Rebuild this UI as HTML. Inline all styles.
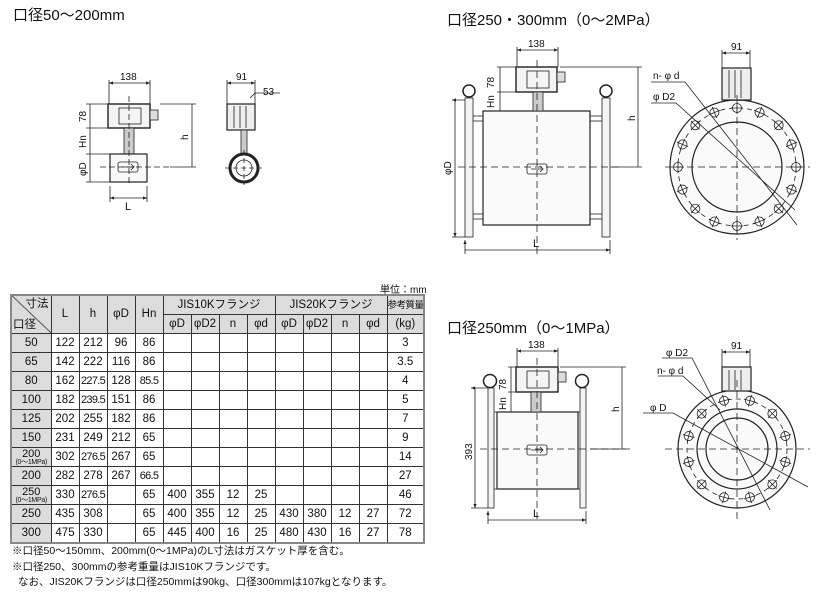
<!DOCTYPE html>
<html><head><meta charset="utf-8">
<style>
body{margin:0;width:821px;height:592px;background:#fff;position:relative;overflow:hidden;font-family:"Liberation Sans","Noto Sans CJK JP",sans-serif;color:#111}
.t{position:absolute;white-space:nowrap}
table{position:absolute;left:10px;top:294px;border-collapse:collapse;table-layout:fixed;width:413px;font-size:11.5px;border:2px solid #888}
tr{height:19px}
td{border:1px solid #333;text-align:center;padding:0;height:18px;line-height:17px;white-space:nowrap;overflow:hidden}
.g{background:#dcdcdc}
.n{font-size:11px;letter-spacing:-0.7px}
.s{font-size:7px;line-height:7px;display:block;letter-spacing:-0.3px}
.two{line-height:10px;font-size:11px}
</style></head><body>
<div class="t" style="left:13px;top:4px;font-size:15px">口径50～200mm</div>
<div class="t" style="left:447px;top:9px;font-size:15px">口径250・300mm（0～2MPa）</div>
<div class="t" style="left:447px;top:317px;font-size:15px">口径250mm（0～1MPa）</div>
<div class="t" style="left:380px;top:281px;font-size:10px">単位：mm</div>

<table>
<colgroup><col style="width:40px"><col style="width:28px"><col style="width:28px"><col style="width:28px"><col style="width:28px"><col style="width:28px"><col style="width:28px"><col style="width:28px"><col style="width:28px"><col style="width:28px"><col style="width:28px"><col style="width:28px"><col style="width:28px"><col style="width:37px"></colgroup>
<tr><td rowspan="2" class="g" style="position:relative;background:linear-gradient(to top right,#dcdcdc 49%,#333 50%,#dcdcdc 52%)"><span style="position:absolute;right:2px;top:1px;line-height:14px">寸法</span><span style="position:absolute;left:1px;bottom:1px;line-height:14px">口径</span></td>
<td rowspan="2" class="g">L</td><td rowspan="2" class="g">h</td><td rowspan="2" class="g">φD</td><td rowspan="2" class="g">Hn</td>
<td colspan="4" class="g">JIS10Kフランジ</td><td colspan="4" class="g">JIS20Kフランジ</td><td class="g" style="font-size:9.5px;letter-spacing:-0.5px">参考質量</td></tr>
<tr><td class="g">φD</td><td class="g">φD2</td><td class="g">n</td><td class="g">φd</td><td class="g">φD</td><td class="g">φD2</td><td class="g">n</td><td class="g">φd</td><td class="g">(kg)</td></tr>
<tr><td class="g">50</td><td>122</td><td>212</td><td>96</td><td>86</td><td></td><td></td><td></td><td></td><td></td><td></td><td></td><td></td><td>3</td></tr>
<tr><td class="g">65</td><td>142</td><td>222</td><td>116</td><td>86</td><td></td><td></td><td></td><td></td><td></td><td></td><td></td><td></td><td>3.5</td></tr>
<tr><td class="g">80</td><td>162</td><td class="n">227.5</td><td>128</td><td class="n">85.5</td><td></td><td></td><td></td><td></td><td></td><td></td><td></td><td></td><td>4</td></tr>
<tr><td class="g">100</td><td>182</td><td class="n">239.5</td><td>151</td><td>86</td><td></td><td></td><td></td><td></td><td></td><td></td><td></td><td></td><td>5</td></tr>
<tr><td class="g">125</td><td>202</td><td>255</td><td>182</td><td>86</td><td></td><td></td><td></td><td></td><td></td><td></td><td></td><td></td><td>7</td></tr>
<tr><td class="g">150</td><td>231</td><td>249</td><td>212</td><td>65</td><td></td><td></td><td></td><td></td><td></td><td></td><td></td><td></td><td>9</td></tr>
<tr><td class="g two">200<span class="s">(0～1MPa)</span></td><td>302</td><td class="n">276.5</td><td>267</td><td>65</td><td></td><td></td><td></td><td></td><td></td><td></td><td></td><td></td><td>14</td></tr>
<tr><td class="g">200</td><td>282</td><td>278</td><td>267</td><td class="n">66.5</td><td></td><td></td><td></td><td></td><td></td><td></td><td></td><td></td><td>27</td></tr>
<tr><td class="g two">250<span class="s">(0～1MPa)</span></td><td>330</td><td class="n">276.5</td><td></td><td>65</td><td>400</td><td>355</td><td>12</td><td>25</td><td></td><td></td><td></td><td></td><td>46</td></tr>
<tr><td class="g">250</td><td>435</td><td>308</td><td></td><td>65</td><td>400</td><td>355</td><td>12</td><td>25</td><td>430</td><td>380</td><td>12</td><td>27</td><td>72</td></tr>
<tr><td class="g">300</td><td>475</td><td>330</td><td></td><td>65</td><td>445</td><td>400</td><td>16</td><td>25</td><td>480</td><td>430</td><td>16</td><td>27</td><td>78</td></tr>
</table>
<div class="t" style="left:12px;top:543px;font-size:10.5px">※口径50～150mm、200mm(0～1MPa)のL寸法はガスケット厚を含む。</div>
<div class="t" style="left:12px;top:559px;font-size:10.5px">※口径250、300mmの参考重量はJIS10Kフランジです。</div>
<div class="t" style="left:18px;top:574px;font-size:10.5px">なお、JIS20Kフランジは口径250mmは90kg、口径300mmは107kgとなります。</div>

<svg width="821" height="592" style="position:absolute;left:0;top:0" font-family="Liberation Sans, sans-serif" font-size="10" fill="none" stroke="#222" stroke-width="0.8">
<defs><marker id="a" markerWidth="6" markerHeight="6" refX="5" refY="3" orient="auto-start-reverse"><path d="M0,1 L5,3 L0,5" fill="#222" stroke="none"/></marker></defs>
<g>
<rect x="108" y="104" width="42" height="24" stroke-width="1.4" fill="#f4f4f4"/>
<rect x="119" y="108" width="22" height="16"/>
<rect x="150" y="110" width="8" height="10" fill="#ddd"/>
<rect x="124" y="128" width="10" height="26" fill="#ccc"/>
<rect x="110" y="154" width="37" height="28" stroke-width="1.2" fill="#f8f8f8"/>
<rect x="118" y="162" width="20" height="10" rx="2"/>
<path d="M122 167h12M131 164l3 3-3 3" />
<path d="M100 167h70M129 96v90" stroke-dasharray="6 3"/>
<path d="M109 83h41" marker-start="url(#a)" marker-end="url(#a)"/>
<path d="M109 80v24M150 80v24M110 186v16M147 186v16"/>
<path d="M110 198h37" marker-start="url(#a)" marker-end="url(#a)"/>
<path d="M86 104h22M86 128h22M86 154h24M86 182h24M90 104v78"/>
<path d="M160 104h36M170 167h26M192 104v63" />
<path d="M227 83h28" marker-start="url(#a)" marker-end="url(#a)"/>
<path d="M227 80v24M255 80v24M250 98l5 -5h25"/>
<rect x="227" y="104" width="28" height="26" fill="#eee" stroke-width="1.2"/>
<path d="M234 106v22M240 106v22M246 106v22"/>
<rect x="241" y="130" width="6" height="25" fill="#ccc"/>
<circle cx="244" cy="168" r="14" stroke-width="3"/>
<circle cx="244" cy="168" r="8"/>
<path d="M225 168h38M244 150v35" stroke-dasharray="5 3"/>
</g>
<g fill="#111" stroke="none" font-size="10">
<text x="120" y="80">138</text><text x="236" y="80">91</text><text x="263" y="95">53</text>
<text x="125" y="210" font-size="11">L</text>
<text transform="translate(86 122) rotate(-90)">78</text>
<text transform="translate(86 148) rotate(-90)">Hn</text>
<text transform="translate(86 176) rotate(-90)">φD</text>
<text transform="translate(188 140) rotate(-90)">h</text>
</g>

<g>
<rect x="483" y="111" width="107" height="114" stroke-width="1.2" fill="#fafafa"/>
<rect x="473" y="116" width="10" height="5"/><rect x="473" y="214" width="10" height="5"/>
<rect x="590" y="116" width="12" height="5"/><rect x="590" y="214" width="12" height="5"/>
<rect x="465" y="98" width="8" height="139" fill="#f4f4f4"/>
<rect x="602" y="98" width="8" height="139" fill="#f4f4f4"/>
<circle cx="469" cy="91" r="6" stroke-width="1.5"/><circle cx="606" cy="91" r="6" stroke-width="1.5"/>
<rect x="516" y="67" width="41" height="25" stroke-width="1.4" fill="#f4f4f4"/>
<rect x="527" y="71" width="22" height="17"/>
<rect x="557" y="72" width="8" height="10" fill="#ddd"/>
<rect x="533" y="92" width="10" height="19" fill="#ccc"/>
<rect x="527" y="164" width="20" height="10" rx="2"/>
<path d="M531 169h12M540 166l3 3-3 3"/>
<path d="M458 167h165M537 60v195" stroke-dasharray="7 4"/>
<path d="M517 50h41" marker-start="url(#a)" marker-end="url(#a)"/>
<path d="M517 47v20M558 47v20"/>
<path d="M497 67h19M497 92h19M497 111h30M500 67v44"/>
<path d="M560 67h82M610 167h32M638 67v100"/>
<path d="M452 100h13M452 237h13M455 100v137" marker-start="url(#a)" marker-end="url(#a)"/>
<path d="M465 240v14M610 240v14M465 250h145" marker-start="url(#a)" marker-end="url(#a)"/>
<circle cx="737" cy="167" r="67" stroke-width="1.2" fill="#fafafa"/>
<circle cx="737" cy="167" r="45" stroke-width="1.2"/>
<circle cx="737" cy="167" r="59" stroke-dasharray="5 4"/>
<g id="b16"><circle cx="737" cy="108" r="4.5" fill="#fff"/><path d="M737 102v12M731 108h12"/></g>
<use href="#b16" transform="rotate(22.5 737 167)"/><use href="#b16" transform="rotate(45 737 167)"/><use href="#b16" transform="rotate(67.5 737 167)"/><use href="#b16" transform="rotate(90 737 167)"/><use href="#b16" transform="rotate(112.5 737 167)"/><use href="#b16" transform="rotate(135 737 167)"/><use href="#b16" transform="rotate(157.5 737 167)"/><use href="#b16" transform="rotate(180 737 167)"/><use href="#b16" transform="rotate(202.5 737 167)"/><use href="#b16" transform="rotate(225 737 167)"/><use href="#b16" transform="rotate(247.5 737 167)"/><use href="#b16" transform="rotate(270 737 167)"/><use href="#b16" transform="rotate(292.5 737 167)"/><use href="#b16" transform="rotate(315 737 167)"/><use href="#b16" transform="rotate(337.5 737 167)"/>
<rect x="722" y="68" width="29" height="32" fill="#eee" stroke-width="1.2"/>
<path d="M729 70v28M735 70v28M741 70v28"/>
<path d="M665 167h145M737 95v145" stroke-dasharray="7 4"/>
<path d="M722 53h28" marker-start="url(#a)" marker-end="url(#a)"/><path d="M722 50v18M750 50v18"/>
<path d="M651 82h34L797 225M651 103h25L795 210"/>
</g>
<g fill="#111" stroke="none" font-size="10">
<text x="528" y="47">138</text><text x="731" y="50">91</text>
<text x="653" y="79">n- φ d</text><text x="653" y="100">φ D2</text>
<text x="533" y="247" font-size="11">L</text>
<text transform="translate(494 88) rotate(-90)">78</text>
<text transform="translate(494 108) rotate(-90)">Hn</text>
<text transform="translate(451 175) rotate(-90)">φD</text>
<text transform="translate(635 121) rotate(-90)">h</text>
</g>

<g>
<rect x="497" y="412" width="81" height="77" stroke-width="1.2" fill="#fafafa"/>
<rect x="488" y="388" width="6" height="120" fill="#f4f4f4"/>
<rect x="580" y="388" width="6" height="120" fill="#f4f4f4"/>
<path d="M494 412h3M494 489h3M578 412h2M578 489h2"/>
<circle cx="490" cy="381" r="6.5" stroke-width="1.5"/><circle cx="582" cy="381" r="6.5" stroke-width="1.5"/>
<rect x="516" y="367" width="42" height="25" stroke-width="1.4" fill="#f4f4f4"/>
<rect x="527" y="371" width="22" height="17"/>
<rect x="558" y="372" width="8" height="10" fill="#ddd"/>
<rect x="531" y="392" width="10" height="20" fill="#ccc"/>
<rect x="527" y="445" width="20" height="10" rx="2"/>
<path d="M531 450h12M540 447l3 3-3 3"/>
<path d="M480 449h150M537 358v165" stroke-dasharray="7 4"/>
<path d="M517 351h41" marker-start="url(#a)" marker-end="url(#a)"/><path d="M517 348v19M558 348v19"/>
<path d="M508 367h8M508 392h8M508 412h23M511 367v45"/>
<path d="M560 367h66M590 449h36M622 367v82"/>
<path d="M471 388h17M471 508h17M475 388v120" marker-start="url(#a)" marker-end="url(#a)"/>
<path d="M488 511v13M586 511v13M488 520h98" marker-start="url(#a)" marker-end="url(#a)"/>
<circle cx="737" cy="449" r="59" stroke-width="1.2" fill="#fafafa"/>
<circle cx="737" cy="449" r="40" stroke-width="1.2"/>
<circle cx="737" cy="449" r="31" stroke-width="1.2"/>
<circle cx="737" cy="449" r="50" stroke-dasharray="5 4"/>
<g id="b12"><g transform="rotate(15 737 449)"><circle cx="737" cy="399" r="4.5" fill="#fff"/><path d="M737 393v12M731 399h12"/></g></g>
<use href="#b12" transform="rotate(30 737 449)"/><use href="#b12" transform="rotate(60 737 449)"/><use href="#b12" transform="rotate(90 737 449)"/><use href="#b12" transform="rotate(120 737 449)"/><use href="#b12" transform="rotate(150 737 449)"/><use href="#b12" transform="rotate(180 737 449)"/><use href="#b12" transform="rotate(210 737 449)"/><use href="#b12" transform="rotate(240 737 449)"/><use href="#b12" transform="rotate(270 737 449)"/><use href="#b12" transform="rotate(300 737 449)"/><use href="#b12" transform="rotate(330 737 449)"/>
<rect x="722" y="367" width="29" height="24" fill="#eee" stroke-width="1.2"/>
<path d="M729 370v20M735 370v20M741 370v20"/>
<path d="M665 449h145M737 380v140" stroke-dasharray="7 4"/>
<path d="M722 352h28" marker-start="url(#a)" marker-end="url(#a)"/><path d="M722 349v18M750 349v18"/>
<path d="M662 358h30L770 510M658 376h25L720 410M643 413h30L808 487"/>
</g>
<g fill="#111" stroke="none" font-size="10">
<text x="528" y="348">138</text><text x="731" y="349">91</text>
<text x="666" y="356">φ D2</text><text x="657" y="374">n- φ d</text><text x="650" y="411">φ D</text>
<text x="533" y="517" font-size="11">L</text>
<text transform="translate(506 390) rotate(-90)">78</text>
<text transform="translate(506 410) rotate(-90)">Hn</text>
<text transform="translate(472 460) rotate(-90)">393</text>
<text transform="translate(619 412) rotate(-90)">h</text>
</g>
</svg>
</body></html>
